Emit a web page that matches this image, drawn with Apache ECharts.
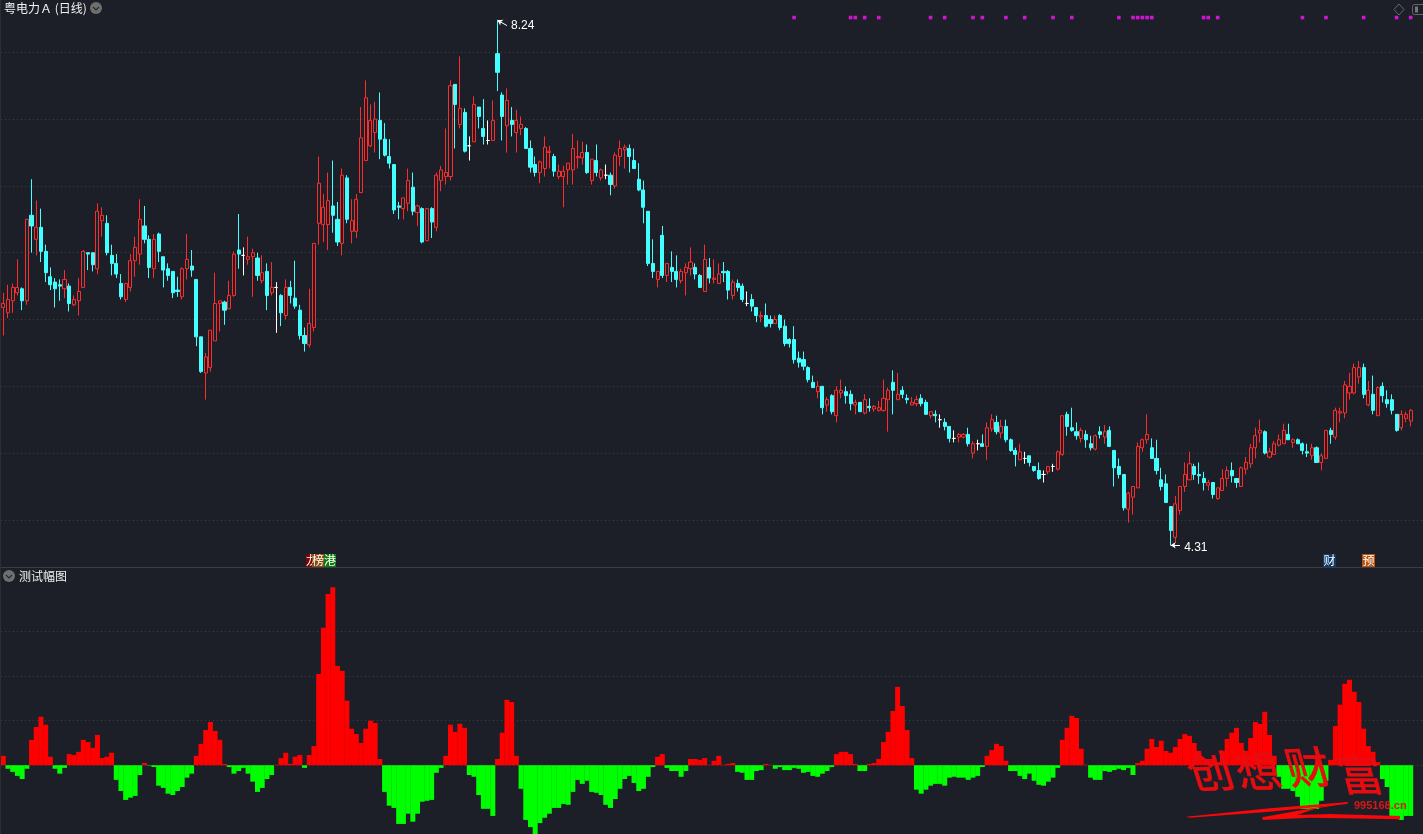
<!DOCTYPE html>
<html><head><meta charset="utf-8">
<style>html,body{margin:0;padding:0;background:#1c1f27}#c{width:1423px;height:834px}</style>
<script src="https://cdn.jsdelivr.net/npm/echarts@6/dist/echarts.min.js"></script>
</head><body><div id="c"></div>
<script>
const opens=[6.09,6.05,6.14,6.20,6.23,6.14,6.78,6.60,6.69,6.51,
6.32,6.28,6.26,6.23,6.25,6.11,6.14,6.24,6.50,6.50,
6.38,6.74,6.72,6.48,6.42,6.27,6.15,6.24,6.44,6.49,
6.70,6.60,6.38,6.64,6.47,6.38,6.36,6.22,6.17,6.38,
6.40,6.30,5.87,5.60,5.64,5.84,6.12,6.13,6.08,6.18,
6.52,6.48,6.45,6.47,6.46,6.29,6.36,6.20,6.24,6.18,
6.03,6.24,6.16,6.07,5.88,5.81,5.94,6.72,6.71,6.71,
6.85,6.75,6.57,7.06,6.66,6.66,6.95,7.19,7.30,7.40,
7.49,7.35,7.22,7.16,6.85,6.83,6.87,6.99,6.80,6.83,
6.59,6.83,6.69,7.04,7.07,7.07,7.76,7.46,7.55,7.30,
7.33,7.59,7.43,7.34,7.34,7.99,7.68,7.45,7.49,7.40,
7.43,7.43,7.28,7.16,7.10,7.13,7.25,7.22,7.07,7.07,
7.12,7.12,7.21,7.21,7.25,7.04,7.19,7.06,7.08,7.08,
7.00,7.22,7.27,7.28,7.19,7.05,6.97,6.81,6.42,6.30,
6.63,6.33,6.39,6.36,6.29,6.35,6.38,6.39,6.33,6.21,
6.39,6.30,6.27,6.36,6.36,6.18,6.27,6.25,6.12,6.15,
6.09,6.02,6.03,6.00,5.97,6.03,5.95,5.85,5.85,5.71,
5.70,5.64,5.53,5.46,5.50,5.36,5.43,5.28,5.45,5.46,
5.44,5.36,5.38,5.30,5.35,5.33,5.32,5.32,5.40,5.53,
5.40,5.47,5.41,5.36,5.37,5.41,5.38,5.28,5.29,5.25,
5.23,5.20,5.11,5.12,5.12,5.14,5.00,5.07,5.07,5.05,
5.18,5.23,5.15,5.20,5.10,5.02,4.95,4.96,4.98,4.90,
4.87,4.84,4.86,4.90,4.88,4.99,5.29,5.19,5.16,5.11,
5.14,5.07,5.03,5.16,5.12,5.17,5.02,4.90,4.84,4.58,
4.67,4.74,5.04,5.10,5.04,4.96,4.80,4.77,4.60,4.37,
4.57,4.75,4.80,4.90,4.84,4.81,4.76,4.78,4.66,4.72,
4.81,4.87,4.81,4.75,4.88,4.92,5.04,5.15,5.16,4.97,
4.99,5.06,5.07,5.14,5.08,5.10,5.07,5.01,4.98,5.04,
4.93,4.96,5.17,5.12,5.30,5.30,5.45,5.45,5.57,5.64,
5.36,5.44,5.28,5.50,5.40,5.40,5.29,5.19,5.26,5.24];
const closes=[6.12,6.15,6.24,6.24,6.14,6.75,6.70,6.69,6.51,6.35,
6.26,6.23,6.25,6.30,6.12,6.15,6.21,6.51,6.49,6.41,
6.81,6.78,6.50,6.42,6.34,6.17,6.27,6.44,6.54,6.75,
6.60,6.39,6.60,6.51,6.37,6.33,6.20,6.21,6.38,6.45,
6.37,5.87,5.61,5.72,5.92,6.12,6.14,6.07,6.18,6.49,
6.49,6.48,6.47,6.50,6.33,6.35,6.18,6.24,6.24,6.05,
6.24,6.18,6.10,5.88,5.82,5.97,6.57,7.02,6.84,6.89,
6.78,6.58,7.08,6.75,6.74,6.90,7.36,7.66,7.49,7.50,
7.35,7.23,7.17,6.82,6.84,6.91,7.04,6.81,6.85,6.58,
6.83,6.73,7.08,7.12,7.10,7.75,7.61,7.58,7.26,7.30,
7.61,7.52,7.37,7.34,7.49,7.85,7.52,7.64,7.46,7.49,
7.46,7.28,7.14,7.10,7.18,7.29,7.26,7.11,7.11,7.11,
7.17,7.28,7.22,7.25,7.10,7.20,7.10,7.12,7.08,7.01,
7.23,7.28,7.29,7.22,7.13,6.97,6.84,6.42,6.36,6.36,
6.33,6.42,6.36,6.30,6.36,6.39,6.43,6.34,6.24,6.45,
6.31,6.31,6.34,6.35,6.22,6.28,6.24,6.15,6.12,6.10,
6.03,6.03,5.95,5.97,6.00,5.94,5.82,5.82,5.70,5.68,
5.65,5.55,5.49,5.50,5.34,5.40,5.31,5.47,5.47,5.43,
5.37,5.38,5.31,5.40,5.34,5.35,5.34,5.41,5.47,5.47,
5.44,5.44,5.40,5.38,5.40,5.37,5.29,5.31,5.28,5.25,
5.20,5.11,5.11,5.14,5.14,5.07,5.07,5.07,5.05,5.19,
5.25,5.16,5.20,5.10,5.02,4.99,5.01,4.96,4.93,4.87,
4.81,4.84,4.90,4.90,5.01,5.28,5.20,5.17,5.13,5.17,
5.10,5.04,5.13,5.14,5.16,5.05,4.89,4.84,4.59,4.70,
4.75,5.05,5.10,5.14,4.96,4.87,4.75,4.63,4.42,4.62,
4.75,4.84,4.92,4.84,4.83,4.78,4.78,4.69,4.74,4.81,
4.87,4.83,4.78,4.89,4.93,5.04,5.13,5.17,5.00,5.01,
5.07,5.10,5.17,5.10,5.10,5.07,5.02,5.00,5.04,4.93,
4.98,5.17,5.14,5.32,5.31,5.51,5.50,5.64,5.64,5.44,
5.47,5.32,5.49,5.43,5.37,5.32,5.17,5.29,5.29,5.32];
const lows=[5.88,6.01,6.05,6.18,6.07,6.11,6.50,6.48,6.43,6.28,
6.22,6.09,6.14,6.16,6.06,6.10,6.03,6.24,6.37,6.36,
6.34,6.62,6.48,6.33,6.31,6.15,6.13,6.21,6.32,6.41,
6.57,6.31,6.31,6.43,6.24,6.29,6.16,6.17,6.15,6.30,
6.32,5.80,5.60,5.40,5.61,5.84,5.91,5.96,6.08,6.17,
6.38,6.33,6.41,6.17,6.29,6.27,6.07,6.18,5.90,5.95,
6.00,6.12,6.08,5.85,5.76,5.79,5.91,6.56,6.58,6.52,
6.65,6.55,6.48,6.72,6.57,6.61,6.95,7.19,7.29,7.25,
7.20,7.22,7.13,6.79,6.75,6.75,6.81,6.78,6.70,6.57,
6.59,6.61,6.66,6.96,7.01,7.04,7.28,7.43,7.25,7.19,
7.33,7.43,7.31,7.31,7.34,7.71,7.34,7.25,7.37,7.25,
7.38,7.28,7.10,7.07,7.02,7.07,7.13,7.07,7.05,6.84,
7.01,7.01,7.13,7.16,7.09,7.01,7.07,7.04,7.05,6.93,
6.98,7.15,7.13,7.10,7.13,6.96,6.72,6.40,6.31,6.24,
6.31,6.28,6.28,6.24,6.27,6.18,6.33,6.30,6.24,6.21,
6.27,6.27,6.27,6.28,6.15,6.15,6.21,6.13,6.10,6.06,
5.98,5.98,5.94,5.94,5.97,5.92,5.80,5.79,5.67,5.64,
5.62,5.53,5.49,5.41,5.29,5.31,5.29,5.23,5.41,5.37,
5.32,5.29,5.31,5.29,5.31,5.31,5.31,5.31,5.16,5.29,
5.40,5.41,5.37,5.36,5.35,5.35,5.29,5.26,5.23,5.19,
5.17,5.08,5.08,5.08,5.11,5.05,4.96,5.02,5.05,4.95,
5.16,5.14,5.11,5.08,5.01,4.90,4.95,4.92,4.90,4.86,
4.80,4.78,4.84,4.86,4.87,4.98,5.13,5.16,5.10,5.08,
5.04,5.02,5.02,5.11,5.07,5.05,4.75,4.81,4.57,4.48,
4.54,4.74,5.01,5.07,4.96,4.84,4.72,4.63,4.31,4.33,
4.54,4.71,4.80,4.80,4.77,4.72,4.72,4.66,4.65,4.72,
4.75,4.78,4.74,4.75,4.84,4.89,4.96,5.08,4.99,4.96,
4.99,5.05,5.07,5.10,5.04,5.07,4.99,4.97,4.95,4.93,
4.87,4.96,5.07,5.10,5.23,5.26,5.40,5.44,5.52,5.41,
5.35,5.29,5.28,5.38,5.34,5.29,5.16,5.17,5.23,5.20];
const highs=[6.20,6.26,6.27,6.45,6.24,6.75,7.05,6.89,6.83,6.56,
6.39,6.31,6.30,6.37,6.27,6.18,6.31,6.52,6.50,6.50,
6.87,6.84,6.78,6.56,6.49,6.34,6.27,6.49,6.62,6.90,
6.85,6.63,6.64,6.65,6.47,6.42,6.36,6.32,6.39,6.64,
6.52,6.30,5.87,5.75,5.92,6.35,6.14,6.14,6.29,6.51,
6.79,6.54,6.62,6.53,6.50,6.48,6.42,6.43,6.28,6.19,
6.30,6.29,6.44,6.11,5.94,6.23,6.57,7.22,6.94,7.10,
7.19,6.88,7.13,7.08,6.90,6.94,7.59,7.79,7.61,7.63,
7.70,7.47,7.35,7.16,6.88,6.91,7.13,7.10,6.86,6.84,
6.83,6.84,7.10,7.15,7.43,7.79,7.76,7.97,7.58,7.37,
7.67,7.59,7.65,7.49,7.64,8.24,7.70,7.73,7.59,7.57,
7.52,7.44,7.34,7.22,7.19,7.37,7.30,7.24,7.16,7.15,
7.17,7.39,7.34,7.33,7.31,7.20,7.31,7.13,7.16,7.10,
7.25,7.34,7.31,7.31,7.28,7.17,7.04,6.81,6.60,6.36,
6.70,6.42,6.51,6.48,6.38,6.42,6.54,6.42,6.34,6.56,
6.46,6.45,6.42,6.43,6.37,6.30,6.30,6.27,6.21,6.19,
6.09,6.06,6.12,6.03,6.03,6.04,6.00,5.86,5.95,5.76,
5.76,5.65,5.58,5.54,5.50,5.42,5.44,5.50,5.55,5.50,
5.47,5.40,5.38,5.44,5.41,5.36,5.39,5.55,5.49,5.62,
5.60,5.50,5.44,5.42,5.43,5.44,5.40,5.31,5.32,5.29,
5.26,5.20,5.17,5.15,5.15,5.19,5.09,5.10,5.14,5.23,
5.29,5.28,5.25,5.25,5.11,5.04,5.07,5.01,4.98,4.90,
4.93,4.87,4.90,4.92,5.02,5.28,5.31,5.34,5.23,5.19,
5.17,5.13,5.14,5.20,5.21,5.20,5.02,4.96,4.84,4.71,
4.75,5.08,5.11,5.29,5.11,5.10,4.89,4.84,4.60,4.68,
4.75,4.93,5.01,4.92,4.93,4.86,4.80,4.78,4.74,4.88,
4.90,4.93,4.81,4.90,4.97,5.07,5.19,5.25,5.17,5.04,
5.09,5.14,5.22,5.22,5.11,5.11,5.08,5.07,5.07,5.05,
5.00,5.17,5.19,5.34,5.34,5.54,5.60,5.67,5.69,5.67,
5.54,5.58,5.50,5.53,5.47,5.44,5.29,5.32,5.31,5.33];
const amplitude=[2.1,-0.8,-1.5,-2.4,-3.1,-0.8,5.7,8.6,10.9,9.1,
1.9,-0.8,-1.9,-0.6,2.5,2.3,3.0,5.7,5.2,3.9,
6.8,1.6,1.9,2.8,-3.3,-5.8,-7.8,-7.3,-6.9,-2.2,
0.5,-0.1,-0.4,-4.6,-5.1,-6.4,-6.7,-5.8,-4.9,-2.8,
-1.9,2.1,4.8,7.9,9.7,7.7,5.7,0.3,-0.4,-1.9,
-1.3,-0.6,-1.9,-3.7,-6.0,-5.1,-3.1,-2.2,0.1,1.6,
2.8,0.3,1.9,2.3,-0.6,2.3,4.3,20.5,30.9,38.5,
40.0,22.3,21.2,14.5,8.2,7.0,5.0,8.2,10.0,9.5,
1.4,-6.0,-9.1,-9.6,-13.2,-13.2,-10.9,-12.7,-10.9,-8.2,
-8.0,-7.8,-1.7,-0.6,2.1,9.1,7.5,9.3,8.4,-2.2,
-2.6,-6.7,-9.8,-9.8,-11.4,1.4,7.3,14.7,14.2,2.1,
-5.3,-12.3,-13.9,-16.0,-13.0,-11.8,-10.9,-9.6,-9.6,-8.7,
-8.9,-6.0,-3.3,-4.2,-3.5,-6.0,-6.2,-6.7,-8.9,-9.6,
-7.6,-5.3,-3.1,-2.4,-4.0,-5.8,-5.3,-2.6,-0.4,1.9,
2.5,-0.6,-1.3,-1.3,-2.6,-1.3,1.4,1.4,1.2,1.6,
0.1,1.0,2.1,0.1,0.3,0.5,-1.5,-1.7,-3.3,-3.3,
-1.3,-1.1,0.3,0.1,-0.8,-0.4,-1.1,-1.1,-0.6,-0.8,
-1.7,-1.5,-2.4,-2.6,-1.9,-1.3,-0.4,2.5,3.0,3.0,
2.5,0.3,-1.3,-1.3,0.3,0.5,1.4,5.2,7.5,12.2,
17.6,13.3,7.9,1.6,-5.5,-6.4,-5.5,-4.6,-4.2,-4.2,
-4.6,-2.8,-2.6,-2.8,-2.8,-3.3,-2.8,-2.4,-0.4,2.1,
3.4,4.8,4.3,1.0,-1.3,-1.3,-2.4,-3.1,-1.9,-3.5,
-4.4,-4.6,-3.7,-2.8,-0.6,5.7,8.4,11.1,10.6,3.7,
0.1,-2.8,-3.3,-3.3,-1.3,-1.5,-1.1,-0.8,-1.1,-0.6,
-2.2,0.5,1.0,3.7,5.9,4.1,5.5,3.2,2.8,4.1,
5.9,7.0,6.6,5.0,3.2,1.5,1.4,1.4,0.7,3.2,
5.9,7.3,8.4,5.0,3.2,6.1,9.7,9.3,12.0,6.8,
2.1,-2.6,-5.3,-5.3,-5.8,-7.1,-9.8,-9.8,-9.8,-9.8,
-8.0,-3.5,1.2,8.8,13.6,18.3,19.2,16.5,14.2,8.2,
4.3,3.0,0.7,-3.1,-4.9,-11.4,-11.4,-12.3,-11.4,-11.4];
const signalDays=[168,180,181,183,186,197,200,206,208,213,217,223,227,237,240,241,242,243,244,255,256,258,276,281,289,296,299];
const signalLevel=8.26;
const dayLabels=Array.from({length:302},(_,i)=>String(i+1));
const highPoint={day:105,price:8.24}, lowPoint={day:248,price:4.31};

const BG='#1c1f27', RED='#ff2c2c', CYAN='#44ffff', DOT='#3d4047', CJK='"Noto Sans CJK SC"';
const dotLine={type:[1,3],width:1,color:DOT};

function icon(x,y){return [
  {type:'circle',shape:{cx:x,cy:y,r:6},style:{fill:'#6f6f6f'},z:50},
  {type:'polyline',shape:{points:[[x-3,y-1],[x,y+2],[x+3,y-1]]},style:{stroke:'#2a2a2a',fill:null,lineWidth:1.2},z:51}
];}
function tag(x,w,bg,ch,cx){return [
  {type:'rect',shape:{x:x,y:554,width:w,height:13},style:{fill:bg},z:50},
  {type:'text',x:cx,y:560.5,style:{text:ch,fill:'#fff',font:'12px '+CJK,align:'center',verticalAlign:'middle'},z:50}
];}
function wm(ch,x,y,rot){return {type:'text',x:x,y:y,rotation:rot,skewX:.25,style:{text:ch,fill:'#e80c10',stroke:'#e80c10',lineWidth:.8,font:'44px '+CJK,align:'center',verticalAlign:'middle'},z:90};}

const graphics=[
  {type:'text',x:4,y:8,style:{text:'粤电力Ａ (日线)',fill:'#f0f0f0',font:'12px '+CJK,verticalAlign:'middle'},z:50},
  ...icon(96,8),
  {type:'text',x:19,y:576.5,style:{text:'测试幅图',fill:'#f0f0f0',font:'12px '+CJK,verticalAlign:'middle'},z:50},
  ...icon(9,576),
  {type:'rect',shape:{x:0,y:567,width:1423,height:1},style:{fill:'#3a3d44'},z:40},
  {type:'rect',shape:{x:0,y:0,width:1,height:834},style:{fill:'#2a2d33'},z:40},
  {type:'polygon',shape:{points:[[1399,4],[1404,9.5],[1399,15],[1394,9.5]]},style:{fill:null,stroke:'#666',lineWidth:1},z:50},
  {type:'rect',shape:{x:1412.5,y:4.5,width:14,height:10,r:2},style:{fill:null,stroke:'#666',lineWidth:1},z:50},
  {type:'rect',shape:{x:1415,y:6.5,width:3,height:6},style:{fill:'#777'},z:50},
  ...tag(306,7,'#7a0505','龙',312),
  ...tag(312,12,'#8a4a12','榜',318),
  ...tag(324,12,'#0a7a0a','港',330),
  ...tag(1323,13,'#0c3a6a','财',1329.5),
  ...tag(1362,13,'#b8520f','预',1368.5),
  wm('创',1210,771,.05), wm('想',1258,770,0), wm('财',1308,767,.03), wm('富',1360,774,0),
  {type:'polygon',shape:{points:[[1186,816.7],[1270,808.3],[1348.3,802],[1346.7,804],[1270,811.7],[1190,817.7]]},style:{fill:'#f80808'},z:90},
  {type:'polygon',shape:{points:[[1348,802],[1302,810],[1262,817.3],[1263,820],[1310,817.7],[1400,819.3],[1400,816],[1330,814],[1297,815],[1317,808.3],[1348,803.3]]},style:{fill:'#f80808'},z:90},
  {type:'text',x:1354,y:806,style:{text:'995168.cn',fill:'#d81818',font:'bold 11px "Liberation Sans"',verticalAlign:'middle'},z:90}
];

const chart=echarts.init(document.getElementById('c'),null,{renderer:'canvas'});
chart.setOption({
  animation:false,backgroundColor:BG,
  grid:[{left:0.95,width:1421.5,top:5.54,height:581.16,outerBoundsMode:'none'},{left:0.95,width:1421.5,top:587.2,height:267,outerBoundsMode:'none'}],
  xAxis:[
    {type:'category',gridIndex:0,data:dayLabels,boundaryGap:true,axisLine:{show:false},axisTick:{show:false},axisLabel:{show:false},splitLine:{show:false}},
    {type:'category',gridIndex:1,data:dayLabels,boundaryGap:true,axisLine:{show:false},axisTick:{show:false},axisLabel:{show:false},splitLine:{show:false}}
  ],
  yAxis:[
    {type:'value',gridIndex:0,min:4,max:8.35,interval:.5,axisLine:{show:false},axisTick:{show:false},axisLabel:{show:false},
     splitLine:{show:true,showMinLine:false,showMaxLine:false,lineStyle:dotLine}},
    {type:'value',gridIndex:1,min:-20,max:40,interval:10,axisLine:{show:false},axisTick:{show:false},axisLabel:{show:false},
     splitLine:{show:true,lineStyle:{type:[1,3],width:1,color:['rgba(0,0,0,0)','rgba(0,0,0,0)',DOT,DOT,DOT,DOT,'rgba(0,0,0,0)']}}}
  ],
  series:[
    {type:'candlestick',name:'粤电力Ａ',xAxisIndex:0,yAxisIndex:0,barWidth:3.6,clip:false,
     data:opens.map((o,i)=>[o,closes[i],lows[i],highs[i]]),
     itemStyle:{color:BG,color0:CYAN,borderColor:RED,borderColor0:CYAN,borderColorDoji:'#ffffff',borderWidth:1},
     markPoint:{silent:true,symbol:'circle',symbolSize:1,itemStyle:{color:'rgba(0,0,0,0)'},
       label:{show:true,color:'#fff',fontSize:12,fontFamily:'"Liberation Sans"',position:'right'},
       data:[
        {coord:[highPoint.day,highPoint.price],value:highPoint.price,label:{formatter:'8.24',distance:13,offset:[0,5]}},
        {coord:[lowPoint.day,lowPoint.price],value:lowPoint.price,label:{formatter:'4.31',distance:13,offset:[0,2]}}
       ]},
     markLine:{silent:true,label:{show:false},lineStyle:{color:'#fff',width:1,type:'solid'},symbolSize:5,
       data:[
        [{coord:[highPoint.day,highPoint.price],symbol:'arrow'},{coord:[highPoint.day+2,highPoint.price-.04],symbol:'none'}],
        [{coord:[lowPoint.day,lowPoint.price],symbol:'arrow'},{coord:[lowPoint.day+2,lowPoint.price],symbol:'none'}]
       ]}
    },
    {type:'scatter',name:'信号',xAxisIndex:0,yAxisIndex:0,symbol:'rect',symbolSize:3.6,silent:true,
     data:signalDays.map(d=>[d,signalLevel]),itemStyle:{color:'#ff10ff'}},
    {type:'bar',name:'测试幅图',xAxisIndex:1,yAxisIndex:1,barWidth:5,silent:true,
     data:amplitude.map(v=>({value:v,itemStyle:{color:v>=0?'#ff0000':'#00ff00'}}))}
  ],
  graphic:graphics
});
</script></body></html>
